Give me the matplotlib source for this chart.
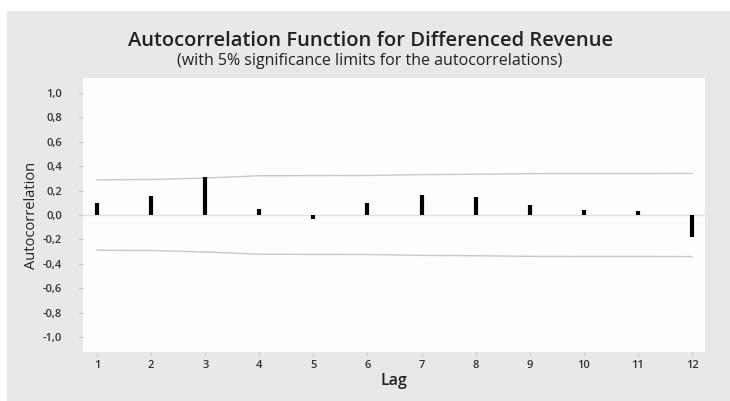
import matplotlib

matplotlib.use("Agg")
import matplotlib.pyplot as plt
from matplotlib.patches import Rectangle

lags = [1, 2, 3, 4, 5, 6, 7, 8, 9, 10, 11, 12]
acf = [0.095, 0.155, 0.313, 0.049, -0.03, 0.095, 0.163, 0.144, 0.082, 0.043, 0.033, -0.182]
upper_limit = [0.288, 0.290, 0.302, 0.321, 0.322, 0.323, 0.330, 0.333, 0.338, 0.339, 0.339, 0.340]
lower_limit = [-v for v in upper_limit]
y_ticks = [1.0, 0.8, 0.6, 0.4, 0.2, 0.0, -0.2, -0.4, -0.6, -0.8, -1.0]

plt.rcParams["font.family"] = ["Open Sans", "DejaVu Sans"]

W, H = 730, 401
fig = plt.figure(figsize=(W / 100, H / 100), dpi=100, facecolor="white")
# grey panel behind everything, white strip at top-left like the screenshot
bg = Rectangle((7 / W, 0), 1 - 7 / W, 1 - 11 / H, transform=fig.transFigure,
               facecolor="#e8e8e8", edgecolor="none", zorder=-10)
fig.patches.append(bg)

ax = fig.add_axes([83 / W, (H - 352) / H, (705 - 83) / W, (352 - 78) / H])
ax.set_zorder(5)
ax.set_facecolor("#fdfdfd")
for s in ax.spines.values():
    s.set_visible(False)

ax.axhline(0, color="#e0e0e0", lw=1.0, zorder=1)
ax.plot(lags, upper_limit, color="#c8c8c8", lw=1.0, zorder=2)
ax.plot(lags, lower_limit, color="#c8c8c8", lw=1.0, zorder=2)
ax.vlines(lags, 0, acf, colors="black", lw=3.0, zorder=3)

ax.set_xlim(0.74, 12.24)
ax.set_ylim(-1.12, 1.12)
ax.set_xticks(lags)
ax.set_xticklabels([str(l) for l in lags])
ax.set_yticks(y_ticks)
ax.set_yticklabels([f"{v:.1f}".replace(".", ",") for v in y_ticks])
ax.tick_params(axis="both", length=3, color="#c8c8c8", labelsize=8, labelcolor="#333333")
ax.tick_params(axis="y", pad=12)
ax.tick_params(axis="x", pad=3)
for lbl in ax.get_xticklabels() + ax.get_yticklabels():
    lbl.set_fontweight("semibold")

ax.set_xlabel("Lag", fontsize=11.5, fontweight="semibold", color="#222222", labelpad=1)
ax.set_ylabel("Autocorrelation", fontsize=10.5, color="#222222", labelpad=3)

fig.text(0.507, 1 - 41 / H, "Autocorrelation Function for Differenced Revenue",
         ha="center", va="center", fontsize=14.5, fontweight="semibold", color="#222222")
fig.text(0.507, 1 - 61 / H, "(with 5% significance limits for the autocorrelations)",
         ha="center", va="center", fontsize=11.5, color="#222222")

fig.savefig("out.png", dpi=100, facecolor=fig.get_facecolor())
